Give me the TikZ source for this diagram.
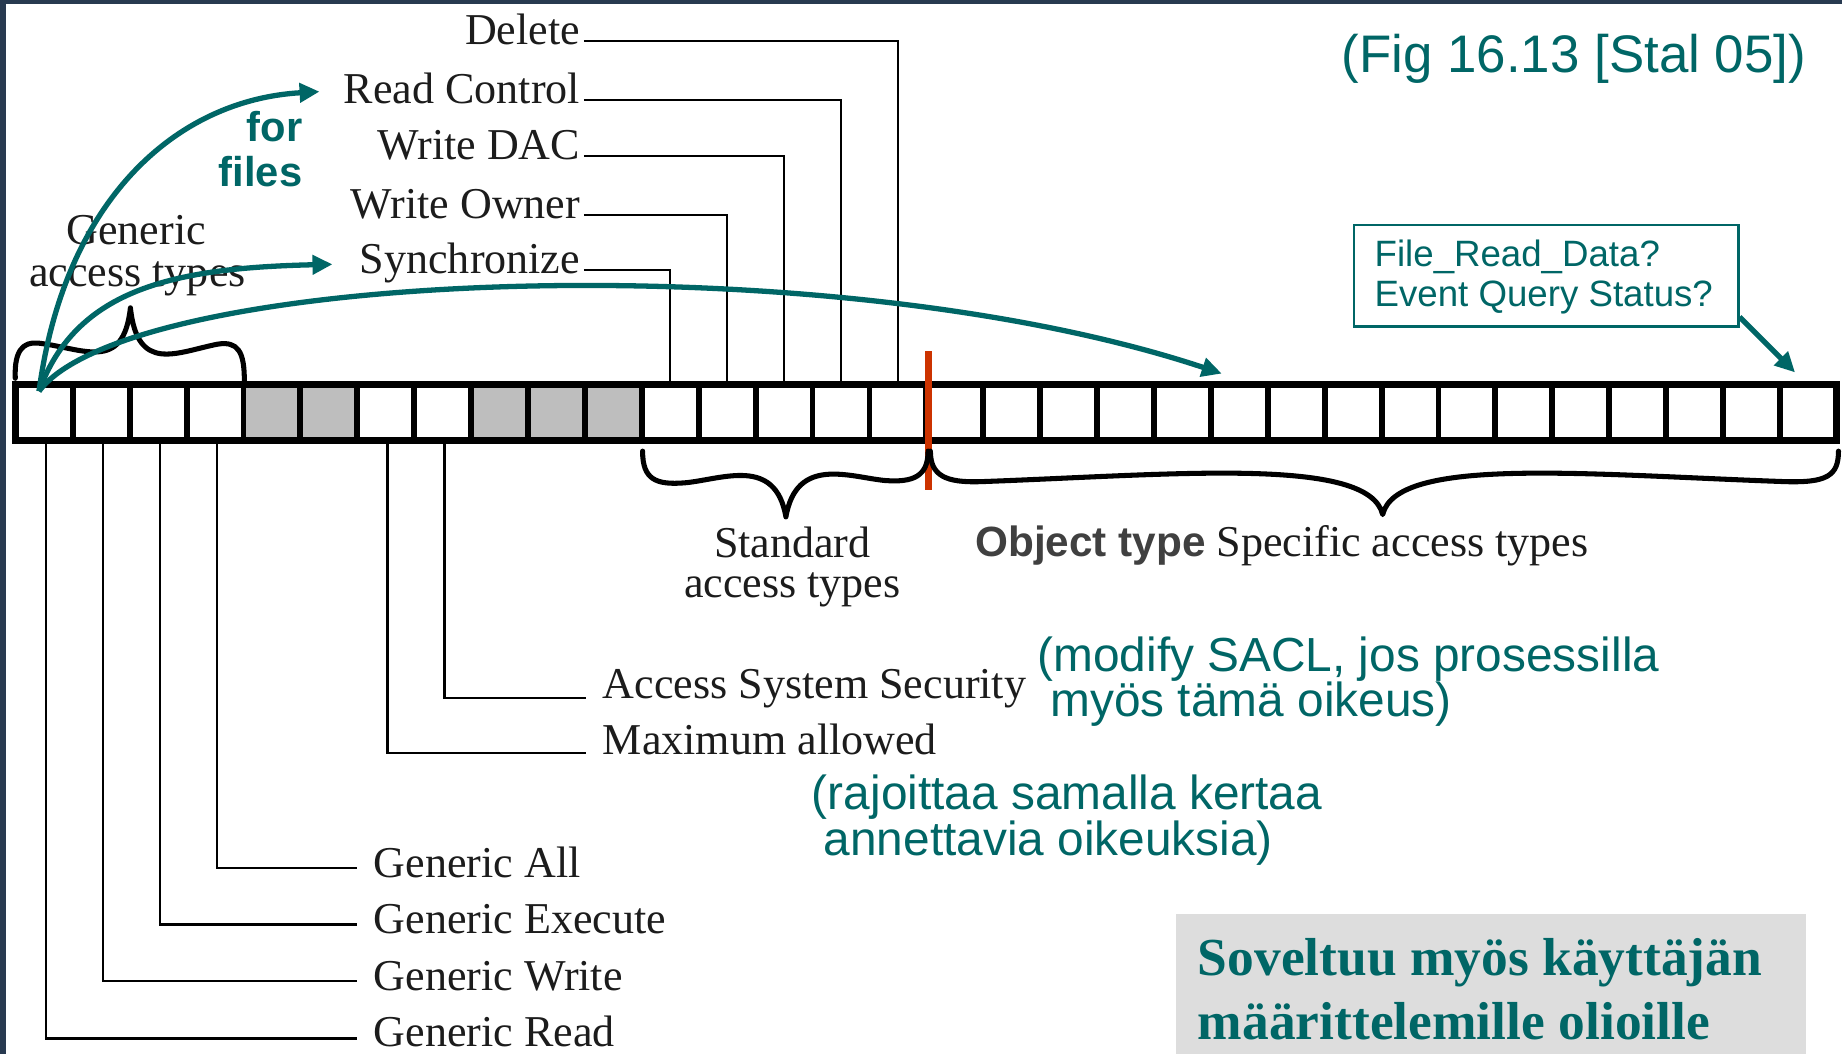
\documentclass[tikz,border=0pt]{standalone}
\usepackage{fontspec}
\setmainfont{Liberation Serif}
\setsansfont{Liberation Sans}
\usetikzlibrary{arrows.meta,calc}

\definecolor{tealink}{RGB}{0,102,102}
\definecolor{labelink}{RGB}{28,28,28}
\definecolor{framedark}{RGB}{40,58,80}
\definecolor{cellgray}{RGB}{190,190,190}
\definecolor{notegray}{RGB}{221,221,221}
\definecolor{splitred}{RGB}{204,51,0}
\definecolor{objgray}{RGB}{64,64,64}

\newcommand\serifsize{\fontsize{37.5}{40}\selectfont}
\newcommand\tealsize{\sffamily\fontsize{40.7}{44}\selectfont}
\newcommand\figsize{\sffamily\fontsize{45}{50}\selectfont}
\newcommand\boxsize{\sffamily\fontsize{31.2}{34}\selectfont}
\newcommand\forsize{\sffamily\bfseries\fontsize{35.5}{38}\selectfont}
\newcommand\notesize{\rmfamily\bfseries\fontsize{45.5}{50}\selectfont}

\begin{document}
\begin{tikzpicture}[x=1pt,y=-1pt,
  cell/.style={draw=black,line width=5pt,minimum width=48.44pt,minimum height=48pt,inner sep=0pt,outer sep=0pt},
  bitlbl/.style={font=\serifsize,text=labelink,inner sep=0pt},
  conn/.style={draw=black,line width=2pt},
  bracepath/.style={draw=black,line width=4.3pt,line cap=round,line join=round},
  tealtxt/.style={font=\tealsize,text=tealink,inner sep=0pt},
  tealarrow/.style={draw=tealink,line width=4.5pt,-{Triangle[length=17pt,width=16pt]}},
]
\useasboundingbox (0,0) rectangle (1568,897);
\fill[white] (0,0) rectangle (1568,897);
% slide frame
\fill[framedark] (0,0) rectangle (5,897);
\fill[framedark] (0,0) rectangle (1568,3);

% the 32 bits of the access mask
\foreach \i in {0,...,31}{
  \pgfmathtruncatemacro\shade{(\i==4)||(\i==5)||((\i>7)&&(\i<11))}
  \ifnum\shade=1 \def\cf{cellgray}\else\def\cf{white}\fi
  \node[cell,fill=\cf] (c\i) at ({13.5+(\i+0.5)*48.44},351) {};
}
\node[draw=black,line width=6pt,minimum width=1550pt,minimum height=48pt,inner sep=0pt] (bar) at (788.5,351) {};
\draw[splitred,line width=6pt] ([xshift=2pt,yshift=28pt]c15.north east) -- ([xshift=2pt,yshift=-42pt]c15.south east);

% braces
\draw[bracepath] (13,322) .. controls (12,298) and (20,291) .. (32,292)
  .. controls (70,296) and (105,318) .. (111,262)
  .. controls (117,318) and (150,300) .. (185,293)
  .. controls (203,290) and (208,300) .. (208,324);
\draw[bracepath] (547,384) .. controls (547,408) and (558,413) .. (583,411)
  .. controls (615,408) and (660,388) .. (669,440)
  .. controls (678,388) and (723,406) .. (753,409)
  .. controls (778,411) and (790,405) .. (790,384);
\draw[bracepath] (792,384) .. controls (792,405) and (805,411) .. (835,410)
  .. controls (1000,404) and (1165,388) .. (1177,438)
  .. controls (1189,388) and (1350,404) .. (1520,410)
  .. controls (1555,411) and (1565,405) .. (1565,384);

% standard rights
\node[bitlbl,anchor=base east] (lblDel) at (494,38) {Delete};
\node[bitlbl,anchor=base east] (lblRC) at (494,88) {Read Control};
\node[bitlbl,anchor=base east] (lblWD) at (494,136) {Write DAC};
\node[bitlbl,anchor=base east] (lblWO) at (494,186) {Write Owner};
\node[bitlbl,anchor=base east] (lblSy) at (494,233) {Synchronize};
\draw[conn] ($(lblDel.base east)+(3,-3)$) -| (c15.north);
\draw[conn] ($(lblRC.base east)+(3,-3)$) -| (c14.north);
\draw[conn] ($(lblWD.base east)+(3,-3)$) -| (c13.north);
\draw[conn] ($(lblWO.base east)+(3,-3)$) -| (c12.north);
\draw[conn] ($(lblSy.base east)+(3,-3)$) -| (c11.north);

% special and generic rights
\node[bitlbl,anchor=base west] (lblASS) at (513,595) {Access System Security};
\node[bitlbl,anchor=base west] (lblMax) at (513,642) {Maximum allowed};
\node[bitlbl,anchor=base west] (lblGA) at (318,747) {Generic All};
\node[bitlbl,anchor=base west] (lblGE) at (318,795) {Generic Execute};
\node[bitlbl,anchor=base west] (lblGW) at (318,843) {Generic Write};
\node[bitlbl,anchor=base west] (lblGR) at (318,891) {Generic Read};
\draw[conn] ([xshift=1.5pt]c7.south) |- ($(lblASS.base west)+(-14,-1)$);
\draw[conn] ([xshift=1.5pt]c6.south) |- ($(lblMax.base west)+(-14,-1)$);
\draw[conn] ([xshift=1.5pt]c3.south) |- ($(lblGA.base west)+(-14,-8)$);
\draw[conn] ([xshift=1.5pt]c2.south) |- ($(lblGE.base west)+(-14,-8)$);
\draw[conn] ([xshift=1.5pt]c1.south) |- ($(lblGW.base west)+(-14,-8)$);
\draw[conn] ([xshift=1.5pt]c0.south) |- ($(lblGR.base west)+(-14,-7)$);

% group captions
\node[bitlbl,anchor=base] (gat1) at (116,208.5) {Generic};
\node[bitlbl,anchor=base] (gat2) at (117,244) {access types};
\node[bitlbl,anchor=base] (sat1) at (674.5,474.5) {Standard};
\node[bitlbl,anchor=base] (sat2) at (674.5,509) {access types};
\node[bitlbl,anchor=base west] (oat) at (830,474) {{\sffamily\bfseries\fontsize{36}{40}\selectfont\color{objgray}Object type} Specific access types};

% notes
\node[tealtxt,anchor=base west] (sacl1) at (883,572) {(modify SACL, jos prosessilla};
\node[tealtxt,anchor=base west] (sacl2) at (894,610) {myös tämä oikeus)};
\node[tealtxt,anchor=base west] (lim1) at (691,689.5) {(rajoittaa samalla kertaa};
\node[tealtxt,anchor=base west] (lim2) at (701,728) {annettavia oikeuksia)};
\node[tealtxt,font=\figsize,anchor=base west] (figref) at (1142,62) {(Fig 16.13 [Stal 05])};
\node[tealtxt,font=\forsize,anchor=base east] (for1) at (257.5,120.5) {for};
\node[tealtxt,font=\forsize,anchor=base east] (for2) at (257.5,159) {files};

\node[draw=tealink,line width=1.8pt,minimum width=327pt,minimum height=86pt,anchor=north west,inner sep=0pt] (qbox) at (1152,191) {};
\node[tealtxt,font=\boxsize,anchor=base west] (q1) at (1170,227) {File\_Read\_Data?};
\node[tealtxt,font=\boxsize,anchor=base west] (q2) at (1170,260.5) {Event Query Status?};

\node[fill=notegray,minimum width=536pt,minimum height=119pt,anchor=north west,inner sep=0pt] (note) at (1001,778) {};
\node[font=\notesize,text=tealink,anchor=base west,inner sep=0pt] (n1) at (1019.5,830) {Soveltuu myös käyttäjän};
\node[font=\notesize,text=tealink,anchor=base west,inner sep=0pt] (n2) at (1019.5,884.7) {määrittelemille olioille};

% arrows
\coordinate (src) at ($(c0.north)+(-4.5,6)$);
\coordinate (tipRC) at (272,78);
\coordinate (tipSy) at (283,225);
\coordinate (tipSpec) at (1040,318);
\coordinate (tipLast) at (1528,317);
\draw[tealarrow] (src) .. controls (55,170) and (150,85) .. (tipRC);
\draw[tealarrow] (src) .. controls (65,245) and (150,228) .. (tipSy);
\draw[tealarrow] (src) .. controls (110,230) and (700,205) .. (tipSpec);
\draw[tealarrow] ($(qbox.south east)+(0,-9)$) -- (tipLast);
\end{tikzpicture}
\end{document}
